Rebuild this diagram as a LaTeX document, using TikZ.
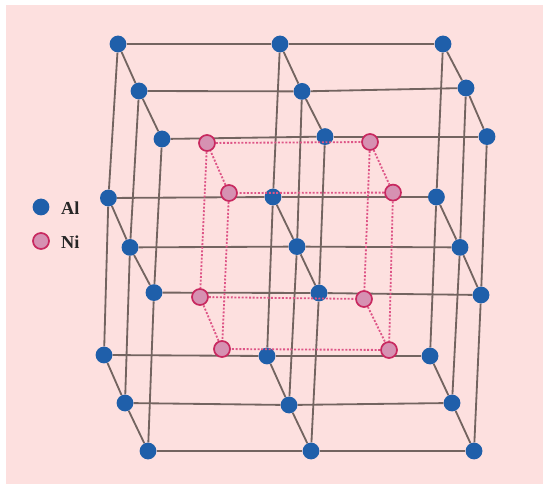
\documentclass[tikz,border=0pt]{standalone}
\usepackage{fontspec}
\setmainfont{Liberation Serif}
\usetikzlibrary{backgrounds}
\definecolor{latpink}{RGB}{253, 224, 223}
\definecolor{latblue}{RGB}{31, 95, 170}
\definecolor{latrod}{RGB}{115, 100, 96}
\definecolor{latnifill}{RGB}{214, 145, 178}
\definecolor{latniline}{RGB}{200, 40, 95}
\definecolor{latdot}{RGB}{222, 85, 135}
\tikzset{
  alatom/.style={circle, fill=latblue, inner sep=0pt, minimum size=0.42cm},
  niatom/.style={circle, fill=latnifill, draw=latniline, line width=1.2pt, inner sep=0pt, minimum size=0.4cm},
  rod/.style={line width=1.3pt, latrod},
  nirod/.style={line width=1.3pt, latdot, dash pattern=on 1.4pt off 1.2pt},
  keylabel/.style={font=\fontsize{13}{15}\selectfont\bfseries, text=black!85, anchor=west, inner sep=0pt}
}

\begin{document}
\begin{tikzpicture}

\useasboundingbox (0, 0) rectangle (13.575, 12.125);

% ============================================================
% Al: upper plane
% ============================================================
\node[alatom] (ta1) at (2.95, 11.025) {};
\node[alatom] (tb1) at (7.0, 11.025) {};
\node[alatom] (tc1) at (11.075, 11.025) {};
\node[alatom] (ta2) at (3.475, 9.85) {};
\node[alatom] (tb2) at (7.55, 9.84) {};
\node[alatom] (tc2) at (11.65, 9.925) {};
\node[alatom] (ta3) at (4.05, 8.65) {};
\node[alatom] (tb3) at (8.125, 8.71) {};
\node[alatom] (tc3) at (12.175, 8.71) {};

% ============================================================
% Al: middle plane
% ============================================================
\node[alatom] (ma1) at (2.71, 7.175) {};
\node[alatom] (mb1) at (6.825, 7.2) {};
\node[alatom] (mc1) at (10.91, 7.2) {};
\node[alatom] (ma2) at (3.25, 5.94) {};
\node[alatom] (mb2) at (7.425, 5.96) {};
\node[alatom] (mc2) at (11.5, 5.94) {};
\node[alatom] (ma3) at (3.85, 4.81) {};
\node[alatom] (mb3) at (7.975, 4.8) {};
\node[alatom] (mc3) at (12.025, 4.75) {};

% ============================================================
% Al: lower plane
% ============================================================
\node[alatom] (ba1) at (2.6, 3.25) {};
\node[alatom] (bb1) at (6.675, 3.225) {};
\node[alatom] (bc1) at (10.75, 3.225) {};
\node[alatom] (ba2) at (3.125, 2.05) {};
\node[alatom] (bb2) at (7.225, 2.0) {};
\node[alatom] (bc2) at (11.3, 2.05) {};
\node[alatom] (ba3) at (3.7, 0.85) {};
\node[alatom] (bb3) at (7.775, 0.85) {};
\node[alatom] (bc3) at (11.85, 0.85) {};

% ============================================================
% Ni: inner cell
% ============================================================
\node[niatom] (ni1) at (5.175, 8.55) {};
\node[niatom] (ni2) at (9.25, 8.575) {};
\node[niatom] (ni3) at (9.825, 7.31) {};
\node[niatom] (ni4) at (5.725, 7.3) {};
\node[niatom] (ni5) at (5.0, 4.7) {};
\node[niatom] (ni6) at (9.1, 4.65) {};
\node[niatom] (ni7) at (9.725, 3.375) {};
\node[niatom] (ni8) at (5.55, 3.4) {};

% Ni rods
\draw[nirod] (ni1) -- (ni2);
\draw[nirod] (ni2) -- (ni3);
\draw[nirod] (ni3) -- (ni4);
\draw[nirod] (ni4) -- (ni1);
\draw[nirod] (ni5) -- (ni6);
\draw[nirod] (ni6) -- (ni7);
\draw[nirod] (ni7) -- (ni8);
\draw[nirod] (ni8) -- (ni5);
\draw[nirod] (ni1) -- (ni5);
\draw[nirod] (ni2) -- (ni6);
\draw[nirod] (ni3) -- (ni7);
\draw[nirod] (ni4) -- (ni8);

% ============================================================
% Key
% ============================================================
\node[alatom] (keyal) at (1.025, 6.95) {};
\node[niatom] (keyni) at (1.025, 6.1) {};
\node[keylabel] (lblal) at (1.52, 6.93) {Al};
\node[keylabel] (lblni) at (1.52, 6.08) {Ni};

% ============================================================
% Panel and Al rods, behind the atoms
% ============================================================
\begin{pgfonlayer}{background}
\fill[white] (0, 0) rectangle (13.575, 12.125);
\fill[latpink] (0.15, 0.025) rectangle (13.575, 12.0);

% Along the rows
\draw[rod] (ta1) -- (tb1);
\draw[rod] (tb1) -- (tc1);
\draw[rod] (ta2) -- (tb2);
\draw[rod] (tb2) -- (tc2);
\draw[rod] (ta3) -- (tb3);
\draw[rod] (tb3) -- (tc3);
\draw[rod] (ma1) -- (mb1);
\draw[rod] (mb1) -- (mc1);
\draw[rod] (ma2) -- (mb2);
\draw[rod] (mb2) -- (mc2);
\draw[rod] (ma3) -- (mb3);
\draw[rod] (mb3) -- (mc3);
\draw[rod] (ba1) -- (bb1);
\draw[rod] (bb1) -- (bc1);
\draw[rod] (ba2) -- (bb2);
\draw[rod] (bb2) -- (bc2);
\draw[rod] (ba3) -- (bb3);
\draw[rod] (bb3) -- (bc3);

% In depth
\draw[rod] (ta1) -- (ta2);
\draw[rod] (ta2) -- (ta3);
\draw[rod] (tb1) -- (tb2);
\draw[rod] (tb2) -- (tb3);
\draw[rod] (tc1) -- (tc2);
\draw[rod] (tc2) -- (tc3);
\draw[rod] (ma1) -- (ma2);
\draw[rod] (ma2) -- (ma3);
\draw[rod] (mb1) -- (mb2);
\draw[rod] (mb2) -- (mb3);
\draw[rod] (mc1) -- (mc2);
\draw[rod] (mc2) -- (mc3);
\draw[rod] (ba1) -- (ba2);
\draw[rod] (ba2) -- (ba3);
\draw[rod] (bb1) -- (bb2);
\draw[rod] (bb2) -- (bb3);
\draw[rod] (bc1) -- (bc2);
\draw[rod] (bc2) -- (bc3);

% Uprights
\draw[rod] (ta1) -- (ma1);
\draw[rod] (ma1) -- (ba1);
\draw[rod] (tb1) -- (mb1);
\draw[rod] (mb1) -- (bb1);
\draw[rod] (tc1) -- (mc1);
\draw[rod] (mc1) -- (bc1);
\draw[rod] (ta2) -- (ma2);
\draw[rod] (ma2) -- (ba2);
\draw[rod] (tb2) -- (mb2);
\draw[rod] (mb2) -- (bb2);
\draw[rod] (tc2) -- (mc2);
\draw[rod] (mc2) -- (bc2);
\draw[rod] (ta3) -- (ma3);
\draw[rod] (ma3) -- (ba3);
\draw[rod] (tb3) -- (mb3);
\draw[rod] (mb3) -- (bb3);
\draw[rod] (tc3) -- (mc3);
\draw[rod] (mc3) -- (bc3);
\end{pgfonlayer}

\end{tikzpicture}
\end{document}
